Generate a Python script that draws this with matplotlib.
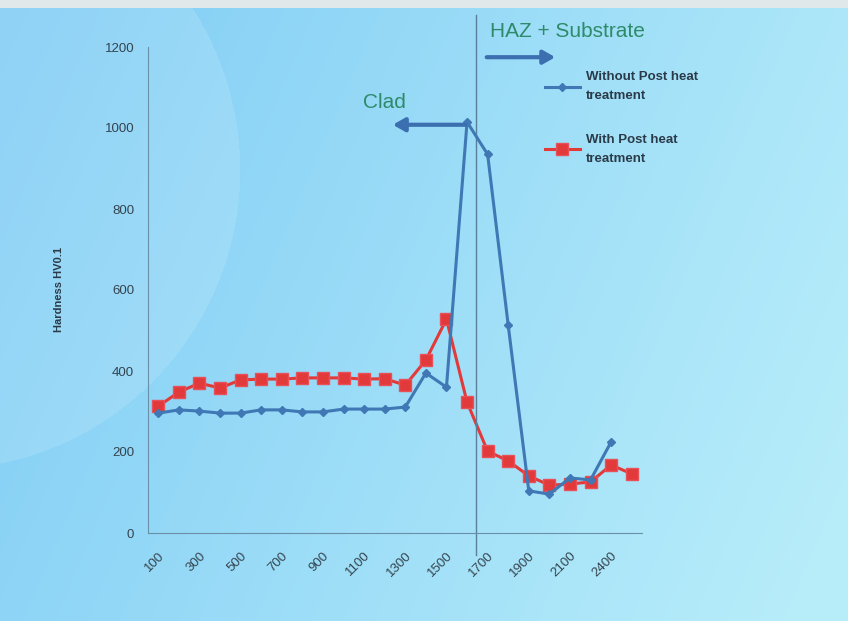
import numpy as np
import matplotlib.pyplot as plt

plt.rcParams['font.family'] = ['Liberation Sans', 'DejaVu Sans']

# distance from surface (category axis)
depths = [100, 200, 300, 400, 500, 600, 700, 800, 900, 1000, 1100, 1200,
          1300, 1400, 1500, 1600, 1700, 1800, 1900, 2000, 2100, 2200, 2400, 2500]
tickLabels = ["100", "300", "500", "700", "900", "1100", "1300", "1500",
              "1700", "1900", "2100", "2400"]

withoutPHT = [296, 304, 301, 296, 296, 304, 304, 299, 299, 306, 306, 306,
              311, 395, 360, 1015, 935, 513, 104, 96, 136, 131, 225]
withPHT = [313, 348, 370, 358, 378, 380, 380, 383, 383, 383, 380, 381,
           365, 427, 528, 323, 202, 178, 141, 118, 121, 126, 168, 146]

W, H = 848, 621
fig = plt.figure(figsize=(W / 100, H / 100), dpi=100)

# slide style background
bg = fig.add_axes([0, 0, 1, 1], zorder=-10)
xx, yy = np.meshgrid(np.linspace(0, 1, W), np.linspace(0, 1, H))
left = np.array([0.50, 0.80, 0.96])
right = np.array([0.72, 0.93, 0.98])
t = np.clip(xx * 0.8 + yy * 0.25, 0, 1)[..., None]
img = left * (1 - t) + right * t
d = np.sqrt((xx * W + 60) ** 2 + (yy * H - 170) ** 2)
img = np.where((d < 300)[..., None], img * 0.88 + 0.12, img)
img[:8] = [0.88, 0.91, 0.92]
bg.imshow(img, aspect='auto', extent=[0, 1, 0, 1], origin='upper')
bg.axis('off')

ax = fig.add_axes([148 / W, 1 - 533 / H, 494 / W, 486 / H])
ax.patch.set_alpha(0)
xs = np.arange(len(depths))
ax.plot(xs[:len(withoutPHT)], withoutPHT, '-D', color='#3f78b4', lw=2.2, ms=4,
        label='Without Post heat\ntreatment', zorder=3)
ax.plot(xs, withPHT, '-s', color='#e23a3a', lw=2.2, ms=8,
        markeredgecolor='#e8505a', label='With Post heat\ntreatment', zorder=2)

ax.set_xlim(-0.5, len(depths) - 0.5)
ax.set_ylim(0, 1200)
ax.set_yticks(range(0, 1201, 200))
ax.set_xticks(xs[::2])
ax.set_xticklabels(tickLabels, rotation=45, ha='right', rotation_mode='anchor')
ax.tick_params(length=0, labelsize=9.5, colors='#34444f', pad=10)
ax.tick_params(axis='x', pad=12)
for s in ['top', 'right']:
    ax.spines[s].set_visible(False)
for s in ['left', 'bottom']:
    ax.spines[s].set_color('#6a8fa8')
ax.set_ylabel('Hardness HV0.1', fontsize=8, fontweight='bold', color='#2a3a48', labelpad=29)

# boundary between clad and HAZ
ax.axvline(15.45, ymin=-0.045, ymax=1.066, color='#5a7f9a', lw=1, clip_on=False)

ax.text(0.692, 1.031, 'HAZ + Substrate', transform=ax.transAxes, fontsize=15,
        color='#2e8b6a', va='center', ha='left')
ax.text(0.435, 0.885, 'Clad', transform=ax.transAxes, fontsize=15,
        color='#2e8b6a', va='center', ha='left')
ax.annotate('', xy=(0.83, 0.979), xytext=(0.68, 0.979), xycoords='axes fraction',
            arrowprops=dict(arrowstyle='-|>,head_width=0.4,head_length=0.7',
                            color='#3b6fb0', lw=3), annotation_clip=False)
ax.annotate('', xy=(0.49, 0.84), xytext=(0.648, 0.84), xycoords='axes fraction',
            arrowprops=dict(arrowstyle='-|>,head_width=0.4,head_length=0.7',
                            color='#3b6fb0', lw=3), annotation_clip=False)

leg = ax.legend(loc='upper left', bbox_to_anchor=(0.78, 0.975), frameon=False,
                handlelength=2.6, labelspacing=2.4, handletextpad=0.5,
                prop={'weight': 'bold', 'size': 9.5})
for txt in leg.get_texts():
    txt.set_color('#2a3a48')
    txt.set_linespacing(1.8)

fig.savefig('out.png', dpi=100)
